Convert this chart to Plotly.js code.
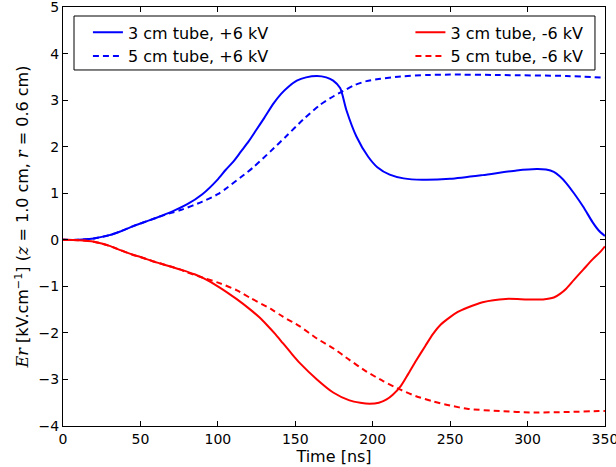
<!DOCTYPE html>
<html>
<head>
<meta charset="utf-8">
<script src="https://cdn.plot.ly/plotly-3.0.1.min.js"></script>
<style>html,body{margin:0;padding:0;background:#fff;}#chart{width:616px;height:467px;}</style>
</head>
<body>
<div id="chart"></div>
<script>
// 3 cm tube, +6 kV
const t3p = [0,10,20,30,37,45,50,60,70,80,90,100,105,110,115,120,125,130,136,141,146,151,157,164,170,174.5,179,183,189.5,197,203,211,220,232,250,271,293,306,312,317,321,325,330,336,342,346,350];
const e3p = [0,0.0,0.03,0.10,0.18,0.29,0.35,0.47,0.60,0.76,0.98,1.30,1.50,1.68,1.90,2.12,2.37,2.62,2.93,3.14,3.30,3.42,3.49,3.52,3.49,3.42,3.26,2.79,2.22,1.79,1.56,1.40,1.32,1.29,1.31,1.39,1.49,1.52,1.51,1.46,1.36,1.22,1.0,0.71,0.38,0.2,0.08];
// 5 cm tube, +6 kV
const t5p = [0,10,20,30,37,45,50,60,70,76,90,100,106,115,123,134,144,155,166,175,180,188,196,205,218,235,250,282,325,350];
const e5p = [0,0.0,0.03,0.10,0.18,0.29,0.35,0.47,0.58,0.64,0.82,0.98,1.12,1.35,1.56,1.90,2.22,2.58,2.90,3.09,3.18,3.32,3.41,3.46,3.51,3.54,3.55,3.54,3.52,3.48];
// 3 cm tube, -6 kV
const t3n = [0,10,20,25,30,37,45,50,58,63,70,76,85,91,101,112,121,127,132,137,142,148,153,164,174.5,185,192,198,204,209,213,218,223,228,234,239,244,250,255,261,271,286,300,310,317,321,325,330,336,342,347,350];
const e3n = [0,-0.01,-0.04,-0.08,-0.13,-0.22,-0.32,-0.37,-0.46,-0.51,-0.58,-0.64,-0.74,-0.83,-1.02,-1.27,-1.50,-1.67,-1.84,-2.02,-2.22,-2.46,-2.65,-3.0,-3.28,-3.45,-3.5,-3.52,-3.5,-3.43,-3.33,-3.15,-2.88,-2.60,-2.28,-2.02,-1.82,-1.66,-1.55,-1.46,-1.34,-1.27,-1.28,-1.28,-1.24,-1.16,-1.05,-0.86,-0.64,-0.42,-0.26,-0.14];
// 5 cm tube, -6 kV
const t5n = [0,10,20,25,30,37,45,50,58,63,70,76,80,90,101,112,121,134,142,153,164,175,185,196,207,218,228,239,250,261,282,304,325,346,350];
const e5n = [0,-0.01,-0.04,-0.08,-0.13,-0.22,-0.32,-0.37,-0.46,-0.51,-0.58,-0.64,-0.70,-0.81,-0.93,-1.08,-1.25,-1.48,-1.65,-1.86,-2.12,-2.34,-2.58,-2.83,-3.04,-3.22,-3.36,-3.47,-3.56,-3.63,-3.68,-3.71,-3.70,-3.68,-3.68];

const names = ['3 cm tube, +6 kV','5 cm tube, +6 kV','3 cm tube, -6 kV','5 cm tube, -6 kV'];
const xTicks = [0,50,100,150,200,250,300,350];
const yTicks = [-4,-3,-2,-1,0,1,2,3,4,5];

const BLUE = '#0000ff', RED = '#ff0000';
const mk = (x, y, name, color, dash, leg) => ({
  x, y, name, type: 'scatter', mode: 'lines', legend: leg,
  line: {color, width: 2, dash, shape: 'spline', smoothing: 0.7}
});
const data = [
  mk(t3p, e3p, names[0], BLUE, 'solid', 'legend'),
  mk(t5p, e5p, names[1], BLUE, '6px,4px', 'legend'),
  mk(t3n, e3n, names[2], RED, 'solid', 'legend2'),
  mk(t5n, e5n, names[3], RED, '6px,4px', 'legend2')
];

const FF = 'DejaVu Sans, sans-serif';
const axisCommon = {
  showgrid: false, zeroline: false, showline: true, linecolor: '#000', linewidth: 1,
  mirror: 'ticks', ticks: 'inside', ticklen: 5, tickwidth: 1, tickcolor: '#000',
  ticklabeloverflow: 'allow',
  tickfont: {family: FF, size: 14, color: '#000'}
};
const legCommon = {
  orientation: 'v', yanchor: 'top', xanchor: 'left', y: 0.98,
  bgcolor: 'rgba(0,0,0,0)', borderwidth: 0,
  font: {family: FF, size: 16, color: '#000'}, traceorder: 'normal', tracegroupgap: 0
};
const layout = {
  width: 616, height: 467,
  margin: {l: 63, r: 11, t: 7, b: 41},
  paper_bgcolor: '#fff', plot_bgcolor: '#fff',
  font: {family: FF, color: '#000'},
  showlegend: true,
  legend: Object.assign({}, legCommon, {x: 0.046}),
  legend2: Object.assign({}, legCommon, {x: 0.641}),
  shapes: [{
    type: 'rect', xref: 'paper', yref: 'paper', layer: 'above',
    x0: 0.0203, x1: 0.9815, y0: 0.8497, y1: 0.9785,
    line: {color: '#000', width: 1}, fillcolor: '#fff'
  }],
  xaxis: Object.assign({}, axisCommon, {
    range: [0, 350.05], tickvals: xTicks, ticktext: xTicks.map(String),
    title: {text: 'Time [ns]', font: {family: FF, size: 16, color: '#000'}, standoff: 2}
  }),
  yaxis: Object.assign({}, axisCommon, {
    range: [-4, 5.002], tickvals: yTicks,
    title: {text: '<i><span style="font-family:DejaVu Serif">Er</span></i> [kV.cm<sup>−1</sup>] (<i><span style="font-family:DejaVu Serif">z</span></i> = 1.0 cm, <i><span style="font-family:DejaVu Serif">r</span></i> = 0.6 cm)', font: {family: FF, size: 16, color: '#000'}, standoff: 5}
  })
};
Plotly.newPlot('chart', data, layout, {displayModeBar: false, staticPlot: true});
</script>
</body>
</html>
